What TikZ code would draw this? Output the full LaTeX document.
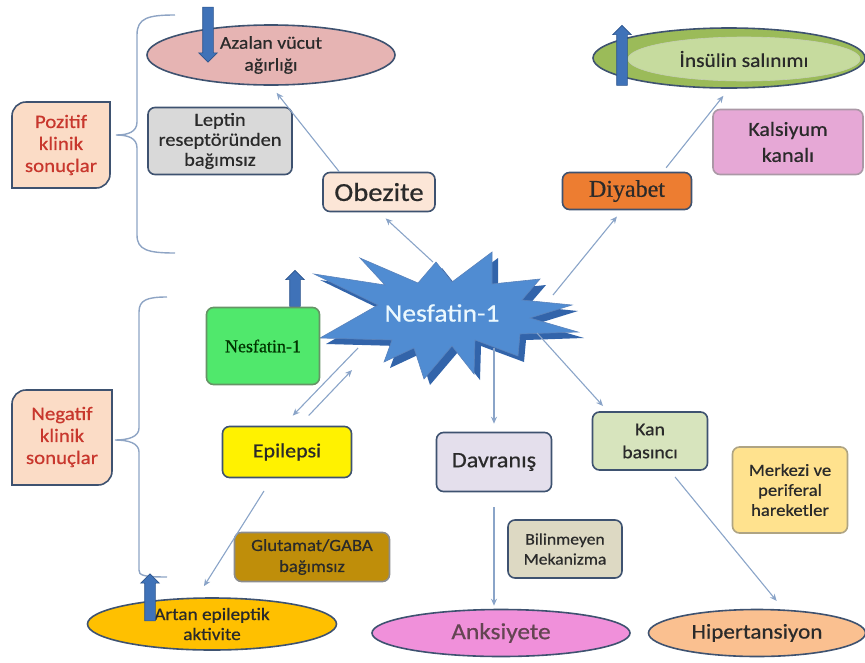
\documentclass[tikz,border=0pt]{standalone}
\usepackage{fontspec}
\setmainfont{Carlito}[FakeStretch=1.1, FakeBold=0.6]
\newfontfamily\tnr{Liberation Serif}[FakeBold=0.6]
\usetikzlibrary{shapes, arrows.meta, positioning}

\definecolor{edge}{HTML}{3E5270}
\definecolor{txt}{HTML}{2A2A2A}
\definecolor{redtxt}{HTML}{C8372D}
\definecolor{arrcol}{HTML}{8AA4C8}
\definecolor{bracecol}{HTML}{8EA4C4}
\definecolor{blkfill}{HTML}{3F72B8}
\definecolor{blkedge}{HTML}{2C548C}
\definecolor{burstfill}{HTML}{508CD2}
\definecolor{burstdark}{HTML}{3264AA}
\definecolor{peach}{HTML}{FBDCC6}
\definecolor{azalan}{HTML}{E6B4B3}
\definecolor{insout}{HTML}{9BBB59}
\definecolor{insin}{HTML}{C6DB9E}
\definecolor{kalsiyum}{HTML}{E6A8D6}
\definecolor{diyabet}{HTML}{ED7D31}
\definecolor{grnbox}{HTML}{50E86C}
\definecolor{glutamat}{HTML}{BF8E0A}
\definecolor{artan}{HTML}{FFC000}
\definecolor{davranis}{HTML}{E4DFEC}
\definecolor{bilinmeyen}{HTML}{DDD9C3}
\definecolor{anksiyete}{HTML}{F090DA}
\definecolor{kanbox}{HTML}{D7E4BD}
\definecolor{merkezi}{HTML}{FFE28E}
\definecolor{hiper}{HTML}{FAC090}

\newcommand{\fs}[2]{\fontsize{#1}{#2}\selectfont}
% outline of the Nesfatin-1 burst
\newcommand{\burst}{(314,274) -- (385,285) -- (360,258) -- (418,283) -- (436,262) -- (452,282)
  -- (492,252) -- (492,284) -- (540,279) -- (522,300) -- (572,305) -- (530,318) -- (578,332)
  -- (520,334) -- (518,356) -- (475,340) -- (474,374) -- (452,346) -- (424,379) -- (414,348)
  -- (384,362) -- (392,340) -- (320,338) -- (378,305) -- cycle}

\begin{document}
\begin{tikzpicture}[x=1pt, y=-1pt,
        box/.style={draw=edge, line width=1.6pt, rounded corners=7pt, align=center, text=txt, inner sep=2pt},
        oval/.style={ellipse, draw=edge, line width=1.6pt, align=center, text=txt, inner sep=0pt},
        side/.style={draw=edge, line width=1.6pt, fill=peach},
        sidetext/.style={align=center, text=redtxt, font=\fs{19}{22}},
        arr/.style={draw=arrcol, line width=1.1pt, -{Stealth[length=7pt, width=6pt]}},
        brace/.style={draw=bracecol, line width=1.4pt},
        bigarrow/.style={single arrow, fill=blkfill, draw=blkedge, line width=0.6pt, inner sep=5pt,
            single arrow head extend=4pt, single arrow head indent=0pt}
    ]
        \useasboundingbox (0,0) rectangle (865,662);

        % brackets on the left
        \draw[brace] (175,15) .. controls (148,15) and (137,18) .. (137,35) -- (137,122)
            .. controls (137,132) and (128,135) .. (116,135) .. controls (128,135) and (137,138) .. (137,148)
            -- (137,235) .. controls (137,250) and (148,253) .. (175,253);
        \draw[brace] (167,297) .. controls (147,297) and (139,300) .. (139,312) -- (139,428)
            .. controls (139,437) and (128,440) .. (115,440) .. controls (128,440) and (139,443) .. (139,452)
            -- (139,570) .. controls (139,575) and (142,577) .. (167,577);

        \draw[side] (26,102) -- (110,102) -- (110,174) arc[start angle=0, end angle=90, radius=14]
            -- (12,188) -- (12,116) arc[start angle=180, end angle=270, radius=14] -- cycle;
        \node[sidetext] (pos) at (61,145) {Pozitif\\klinik\\sonuçlar};
        \draw[side] (26,390) -- (112,390) -- (112,471) arc[start angle=0, end angle=90, radius=14]
            -- (12,485) -- (12,404) arc[start angle=180, end angle=270, radius=14] -- cycle;
        \node[sidetext] (neg) at (62,437) {Negatif\\klinik\\sonuçlar};

        % central burst
        \fill[burstdark, xshift=6pt, yshift=-6pt] \burst;
        \draw[fill=burstfill, draw=burstdark!80, line width=0.6pt] \burst;
        \node[text=white!92!cyan, font=\fs{25}{28}] (nes) at (442,313) {Nesfatin-1};
        \coordinate (sbA) at (433,262);
        \coordinate (sbB) at (553,295);
        \coordinate (sbC) at (358,348);
        \coordinate (sbD) at (352,370);
        \coordinate (sbE) at (494,348);
        \coordinate (sbF) at (537,333);

        % upper half
        \node[oval, fill=azalan, minimum width=248pt, minimum height=60pt, font=\fs{18}{22}] (azl) at (271,55) {Azalan vücut\\ağırlığı};
        \node[bigarrow, rotate=-90, minimum height=55pt] (dwn) at (208,32) {};
        \node[oval, fill=insout, minimum width=272pt, minimum height=60pt] (ins) at (729,58) {};
        \node[ellipse, fill=insin, draw=insin!80!black!60, line width=0.6pt, minimum width=232pt, minimum height=44pt,
            text=txt, font=\fs{19.5}{22}] (insi) at (744,59) {İnsülin salınımı};
        \node[bigarrow, rotate=90, minimum height=60pt] (upins) at (622,58) {};
        \node[box, fill=black!15, minimum width=144pt, minimum height=67pt, font=\fs{18.5}{20}] (lep) at (220,141) {Leptin\\reseptöründen\\bağımsız};
        \node[box, fill=peach!70, minimum width=112pt, minimum height=39pt, font=\fs{26}{28}] (obz) at (379,192) {Obezite};
        \node[box, fill=diyabet, minimum width=129pt, minimum height=37pt, font=\tnr\fs{24}{26}] (diy) at (627,191) {Diyabet};
        \node[box, fill=kalsiyum, draw=kalsiyum!50!black!60, minimum width=150pt, minimum height=65pt, font=\fs{20}{26}] (kal) at (788,142) {Kalsiyum\\kanalı};

        % lower half
        \node[box, fill=grnbox, draw=green!30!black!60, text=green!20!black, minimum width=113pt, minimum height=77pt,
            font=\tnr\fs{18}{20}] (grn) at (263,346) {Nesfatin-1};
        \node[bigarrow, rotate=90, minimum height=36pt] (upgrn) at (295,291) {};
        \node[box, fill=yellow, minimum width=129pt, minimum height=51pt, font=\fs{20}{22}] (epi) at (287,452) {Epilepsi};
        \node[box, fill=glutamat, draw=black!45, minimum width=155pt, minimum height=49pt, font=\fs{17}{21}] (glu) at (312,557) {Glutamat/GABA\\bağımsız};
        \node[oval, fill=artan, minimum width=249pt, minimum height=52pt, font=\fs{17.5}{20}] (art) at (212,624) {Artan epileptik\\aktivite};
        \node[bigarrow, rotate=90, minimum height=47pt] (upart) at (150,600) {};
        \node[box, fill=davranis, minimum width=115pt, minimum height=59pt, font=\fs{22}{24}] (dav) at (494,462) {Davranış};
        \node[box, fill=bilinmeyen, minimum width=114pt, minimum height=58pt, font=\fs{16}{20}] (bil) at (565,549) {Bilinmeyen\\Mekanizma};
        \node[oval, fill=anksiyete, text=black!70!magenta, minimum width=258pt, minimum height=47pt, font=\fs{23}{25}] (ank) at (501,633) {Anksiyete};
        \node[box, fill=kanbox, minimum width=115pt, minimum height=58pt, font=\fs{18}{23}] (kan) at (650,441) {Kan\\basıncı};
        \node[box, fill=merkezi, draw=merkezi!55!black!70, minimum width=115pt, minimum height=86pt, font=\fs{17}{20}] (mer) at (790,490) {Merkezi ve\\periferal\\hareketler};
        \node[oval, fill=hiper, minimum width=217pt, minimum height=47pt, font=\fs{21}{24}] (hip) at (757,633) {Hipertansiyon};

        % connectors
        \draw[arr, shorten >=9pt] (sbA) -- (obz.south);
        \draw[arr, shorten >=9pt] ([xshift=17pt]obz.north west) -- (azl.south);
        \draw[arr, shorten >=8pt] (sbB) -- ([xshift=-5pt]diy.south);
        \draw[arr, shorten <=5pt, shorten >=9pt] ([xshift=36pt]diy.north) -- (ins.south);
        \draw[arr, shorten >=14pt] (sbC) -- ([xshift=-4pt]epi.north);
        \draw[arr, shorten <=14pt] ([xshift=12pt]epi.north) -- (sbD);
        \draw[arr, shorten <=15pt, shorten >=13pt] ([xshift=-15pt]epi.south) -- ([xshift=-15pt]art.north);
        \draw[arr, shorten >=8pt] (sbE) -- (sbE |- dav.north);
        \draw[arr, shorten <=15pt, shorten >=3pt] (dav.south) -- (dav.south |- ank.north);
        \draw[arr, shorten >=7pt] (sbF) -- ([xshift=16pt]kan.north west);
        \draw[arr, shorten <=8pt, shorten >=10pt] ([xshift=20pt]kan.south) -- ([xshift=26pt]hip.north);
    \end{tikzpicture}
\end{document}
